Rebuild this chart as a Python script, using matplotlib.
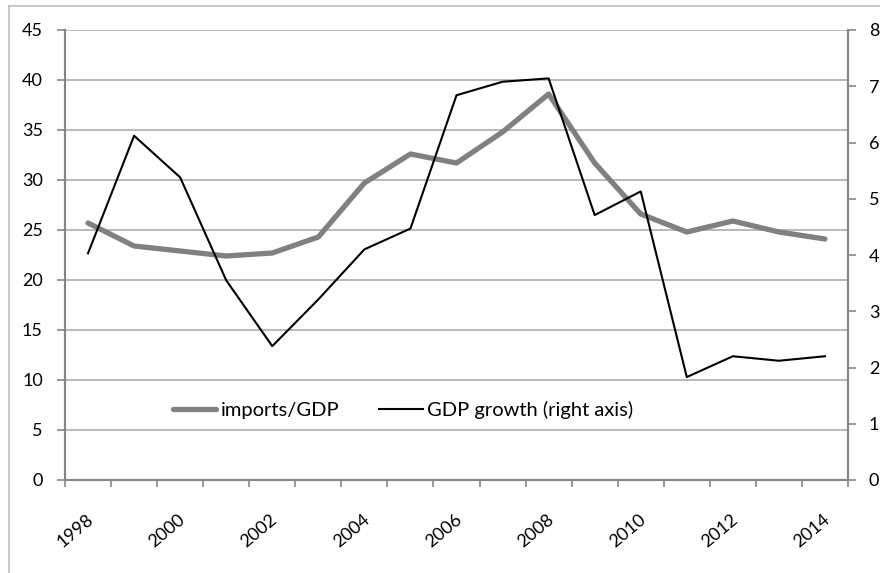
import matplotlib
matplotlib.use("Agg")
import matplotlib.pyplot as plt
from matplotlib.lines import Line2D
from matplotlib.transforms import ScaledTranslation
import numpy as np

years = list(range(1998, 2015))
imports_gdp = [25.7, 23.4, 22.9, 22.4, 22.7, 24.3, 29.7, 32.6, 31.7, 34.8, 38.6,
               31.7, 26.6, 24.8, 25.9, 24.8, 24.1]
gdp_growth = [4.03, 6.12, 5.38, 3.55, 2.38, 3.21, 4.10, 4.47, 6.84, 7.08, 7.14,
              4.71, 5.13, 1.83, 2.20, 2.12, 2.20]
left_ticks = [0, 5, 10, 15, 20, 25, 30, 35, 40, 45]
right_ticks = [0, 1, 2, 3, 4, 5, 6, 7, 8]
label_years = [str(y) for y in years]

plt.rcParams['font.family'] = ['Lato', 'DejaVu Sans']
FS = 13
LFS = 14.5
W, H = 880, 573
fig = plt.figure(figsize=(W / 100, H / 100), dpi=100)
ax = fig.add_axes([65 / W, 1 - 480 / H, (848 - 65) / W, (480 - 30) / H])
ax2 = ax.twinx()

x = np.arange(len(years))
spine_c = '#868686'
grid_c = '#a6a6a6'

l1, = ax.plot(x, imports_gdp, color='#808080', lw=3.8, solid_capstyle='round',
              solid_joinstyle='round', label='imports/GDP', zorder=3)
l2, = ax2.plot(x, gdp_growth, color='black', lw=1.5, label='GDP growth (right axis)', zorder=4)

ax.set_xlim(-0.5, len(years) - 0.5)
ax.set_ylim(0, 45)
ax2.set_ylim(0, 8)
ax.set_yticks(left_ticks)
ax2.set_yticks(right_ticks)
ax.yaxis.grid(True, color=grid_c, lw=1.1)
ax.set_axisbelow(True)

ax.set_xticks(x[::2])
ax.set_xticklabels(label_years[::2], rotation=40, ha='right', va='center',
                   rotation_mode='anchor', fontsize=FS)
ax.set_xticks(np.arange(-0.5, len(years), 1.0), minor=True)
ax.tick_params(axis='x', which='major', length=0, pad=27)
ax.tick_params(axis='x', which='minor', length=5, color=spine_c, width=1.2, direction='out')
ax.tick_params(axis='y', length=6, color=spine_c, width=1.2, pad=10, labelsize=FS)
ax2.tick_params(axis='y', length=6, color=spine_c, width=1.2, pad=9, labelsize=FS)
shift = ScaledTranslation(3 / 100, 0, fig.dpi_scale_trans)
for lab in ax.get_xticklabels():
    lab.set_transform(lab.get_transform() + shift)

for a in (ax, ax2):
    a.spines['top'].set_visible(False)
    for s in ('left', 'right', 'bottom'):
        a.spines[s].set_color(spine_c)
        a.spines[s].set_linewidth(1.5)

leg = ax.legend(handles=[l1, l2], loc='center', bbox_to_anchor=(403 / W, 1 - 410 / H),
                bbox_transform=fig.transFigure, ncol=2, frameon=False, fontsize=LFS,
                handlelength=2.15, handletextpad=0.2, columnspacing=2.0)
leg.set_zorder(10)

# outer chart frame
fig.add_artist(Line2D([9 / W, 9 / W], [0, 1 - 6 / H], transform=fig.transFigure,
                      color='#bfbfbf', lw=1.2))
fig.add_artist(Line2D([9 / W, 1], [1 - 6 / H, 1 - 6 / H], transform=fig.transFigure,
                      color='#bfbfbf', lw=1.2))

fig.savefig('out.png', dpi=100)
